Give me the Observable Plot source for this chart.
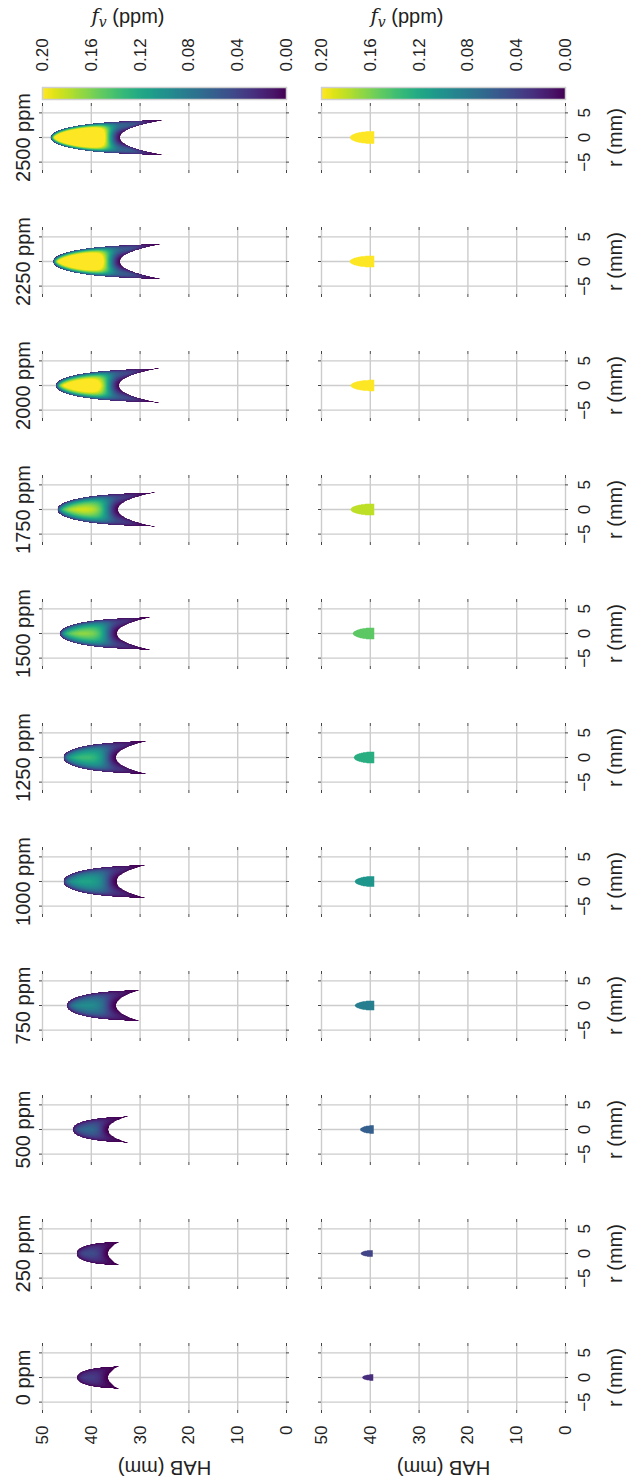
<!DOCTYPE html>
<html><head><meta charset="utf-8">
<script src="https://cdn.jsdelivr.net/npm/d3@7"></script>
<script src="https://cdn.jsdelivr.net/npm/@observablehq/plot@0.6"></script>
<style>
html,body{margin:0;padding:0;background:#fff;overflow:hidden;width:626px;height:1481px;}
#fig{position:absolute;left:0;top:0;width:1481px;height:626px;transform-origin:0 0;transform:translate(0px,1481px) rotate(-90deg);background:#fff;font-family:"Liberation Sans",Arial,sans-serif;}
#fig svg{position:absolute;overflow:visible;}
</style></head><body><div id="fig"></div>
<script>
// ---- data ----
const conc = [0, 250, 500, 750, 1000, 1250, 1500, 1750, 2000, 2250, 2500];           // ppm
// upper row: measured flame soot field (annular chevron)
const apexHAB  = [43.0, 43.1, 43.9, 45.1, 45.8, 45.8, 46.5, 47.0, 47.3, 47.9, 48.4];
const notchHAB = [36.4, 36.4, 36.4, 34.8, 34.7, 34.8, 34.6, 34.4, 34.2, 34.0, 34.0];
const tipHAB   = [33.9, 33.5, 31.6, 29.0, 27.6, 27.3, 26.5, 25.7, 24.9, 24.0, 23.6];
const tipR     = [2.4, 2.55, 2.8, 3.3, 3.5, 3.5, 3.45, 3.6, 3.6, 3.7, 3.7];
const peakFv   = [0.04, 0.05, 0.07, 0.10, 0.12, 0.14, 0.17, 0.19, 0.25, 0.29, 0.33];
// lower row: small soot blob
const blobBase = [39.3, 39.4, 39.2, 39.1, 39.1, 39.1, 39.1, 39.1, 39.1, 39.1, 39.1];
const blobTip  = [41.7, 42.0, 42.1, 43.2, 43.2, 43.4, 43.6, 44.1, 44.1, 44.3, 44.2];
const blobR    = [0.7, 0.75, 0.9, 1.05, 1.15, 1.25, 1.25, 1.25, 1.2, 1.25, 1.35];
const blobFv   = [0.025, 0.04, 0.06, 0.085, 0.105, 0.125, 0.15, 0.18, 0.22, 0.24, 0.25];
// axes
const hTicks = [0, 10, 20, 30, 40, 50];
const rTicks = [-5, 0, 5];
const cbTicks = [0, 0.04, 0.08, 0.12, 0.16, 0.20];
const levels = d3.range(0, 0.4, 0.005);

// ---- layout / style ----
const FONT = "Liberation Sans, Arial, sans-serif";
const GRID = "#cccccc", TICK = "#444";
const R0 = -6.5, R1 = 6.5, FW = 64, FH = 244;
const colX = i => 71 + 124 * i;
const rowY = [42, 321];
const color = {type: "linear", scheme: "viridis", domain: [0, 0.2], clamp: true};
const OC = 0.42, PIN = 0.45, NOTCH_W = 0.21;
const outerShape = s => Math.sqrt(Math.max(0, 1 - Math.exp(-s / OC)) / (1 - Math.exp(-1 / OC)));

function makeFlame(k) {
  const A = apexHAB[k], N = notchHAB[k], T = tipHAB[k], W = tipR[k];
  const outer = [], inner = [];
  for (let j = 0; j <= 80; j++) {
    const u = j / 80;
    for (const t of [u, u * u, Math.pow(u, 4)]) outer.push([W * outerShape(t), A - (A - T) * t]);
    for (const t of [u, Math.pow(u, 2.2)]) inner.push([W * Math.pow(t, PIN), N - (N - T) * t]);
  }
  const nw = NOTCH_W * (A - N);
  const raw = (r, h) => {
    const a = Math.abs(r);
    if (h < T || h > A) return -1;
    const ro = W * outerShape((A - h) / (A - T));
    if (a > ro) return -1;
    if (h < N && a < W * Math.pow((N - h) / (N - T), PIN)) return -1;
    let dO = Infinity, dI = Infinity;
    for (const p of outer) { const d = (a - p[0]) ** 2 + (h - p[1]) ** 2; if (d < dO) dO = d; }
    for (const p of inner) { const d = (a - p[0]) ** 2 + (h - p[1]) ** 2; if (d < dI) dI = d; }
    dO = Math.sqrt(dO); dI = Math.sqrt(dI);
    const dn = Math.hypot(a, h - N);
    const s = (A - h) / (A - T);
    const ax = s < 0.15 ? 1 : Math.exp(-(((s - 0.15) / 0.7) ** 2));
    return (1 - Math.exp(-dO / 1.0)) * (1 - Math.exp(-dI / 0.7)) * (1 - 0.9 * Math.exp(-((dn / nw) ** 2))) * ax;
  };
  let mx = 1e-9;
  for (let r = -4; r <= 4; r += 0.2) for (let h = T; h <= A; h += 0.2) { const v = raw(r, h); if (v > mx) mx = v; }
  const sc = peakFv[k] / mx;
  return (r, h) => { const v = raw(r, h); return v < 0 ? -1 : v * sc; };
}
function makeBlob(k) {
  const b = blobBase[k], t = blobTip[k], R = blobR[k], v = blobFv[k];
  return (r, h) => {
    if (h < b || h > t) return -1;
    const q = (t - h) / (t - b);
    return Math.abs(r) <= R * Math.sqrt(1 - Math.pow(1 - q, 2.2)) ? v : -1;
  };
}

const fig = document.getElementById("fig");
function place(svg, left, top) {
  svg.style.left = left + "px"; svg.style.top = top + "px";
  svg.querySelectorAll("text").forEach(t => {
    if (/\(mm\)/.test(t.textContent)) t.setAttribute("font-size", "20px");
  });
  fig.appendChild(svg);
}

const tlr = 3 * (R1 - R0) / FW, tlh = 3 * 50 / FH;
for (let row = 0; row < 2; row++) {
  for (let k = 0; k < conc.length; k++) {
    const col0 = k === 0;
    const ml = col0 ? 71 : 8, mr = 8, mt = row === 0 ? 42 : 8, mb = row === 1 ? 62 : 8;
    const marks = [
      Plot.ruleY(hTicks, {stroke: GRID, strokeWidth: 1.4}),
      Plot.ruleX(rTicks, {stroke: GRID, strokeWidth: 1.4}),
      row === 0
        ? Plot.contour({value: makeFlame(k), fill: "value", x1: R0, x2: R1, y1: 0, y2: 50, thresholds: levels, pixelSize: 1})
        : Plot.contour({value: makeBlob(k), fill: "value", x1: R0, x2: R1, y1: 0, y2: 50, thresholds: [blobFv[k]], pixelSize: 0.5}),
      Plot.ruleY(hTicks, {x1: R0 - tlr, x2: R0, stroke: TICK, strokeWidth: 1}),
      Plot.ruleY(hTicks, {x1: R1, x2: R1 + tlr, stroke: TICK, strokeWidth: 1}),
      Plot.ruleX(rTicks, {y1: 50, y2: 50 + tlh, stroke: TICK, strokeWidth: 1}),
      Plot.ruleX(rTicks, {y1: -tlh, y2: 0, stroke: TICK, strokeWidth: 1})
    ];
    if (row === 0) marks.push(Plot.text([`${conc[k]} ppm`], {text: d => d, frameAnchor: "top", lineAnchor: "bottom", dy: -13, fontSize: 20, fill: "#222"}));
    const svg = Plot.plot({
      width: FW + ml + mr, height: FH + mt + mb,
      marginLeft: ml, marginRight: mr, marginTop: mt, marginBottom: mb,
      style: {fontFamily: FONT, fontSize: "17px", color: "#222", background: "transparent"},
      x: {domain: [R0, R1], ticks: rTicks, tickSize: 0, tickPadding: 12,
          axis: row === 1 ? "bottom" : null, label: row === 1 ? "r (mm)" : null, labelAnchor: "center", labelOffset: 56, labelArrow: false},
      y: {domain: [0, 50], ticks: hTicks, tickSize: 0, tickPadding: 16,
          axis: col0 ? "left" : null, label: col0 ? "HAB (mm)" : null, labelAnchor: "center", labelOffset: 66, labelArrow: false},
      color,
      marks
    });
    place(svg, colX(k) - ml, rowY[row] - mt);
  }
  // colour bar
  const cml = 2, cmr = 100, cmt = 10, cmb = 10;
  const cb = Plot.plot({
    width: 12 + cml + cmr, height: FH + cmt + cmb,
    marginLeft: cml, marginRight: cmr, marginTop: cmt, marginBottom: cmb,
    style: {fontFamily: FONT, fontSize: "17px", color: "#222", background: "transparent"},
    x: {domain: [0, 1], axis: null},
    y: {domain: [0, 0.2], ticks: cbTicks, tickFormat: d3.format(".2f"), tickSize: 0, tickPadding: 16, axis: "right", label: null},
    color,
    marks: [
      Plot.raster({fill: (x, y) => y, x1: 0, x2: 1, y1: 0, y2: 0.2, pixelSize: 1}),
      Plot.frame({stroke: "#cfcfcf", strokeWidth: 1.5}),
      Plot.text(["fv"], {text: d => d, frameAnchor: "right", rotate: 90, dx: 71, fontSize: 20, fill: "#222"})
    ]
  });
  cb.querySelectorAll("text").forEach(t => {
    if (t.textContent === "fv") {
      t.textContent = "";
      const ns = "http://www.w3.org/2000/svg";
      const a = document.createElementNS(ns, "tspan"); a.setAttribute("font-style", "italic"); a.setAttribute("font-family", "DejaVu Serif, serif"); a.textContent = "f";
      const b = document.createElementNS(ns, "tspan"); b.setAttribute("font-style", "italic"); b.setAttribute("font-family", "DejaVu Serif, serif"); b.setAttribute("font-size", "14px"); b.setAttribute("dy", "4"); b.textContent = "v";
      const c = document.createElementNS(ns, "tspan"); c.setAttribute("dy", "-4"); c.textContent = " (ppm)";
      t.append(a, b, c);
    }
  });
  place(cb, 1381 - cml, rowY[row] - cmt);
}
</script></body></html>
